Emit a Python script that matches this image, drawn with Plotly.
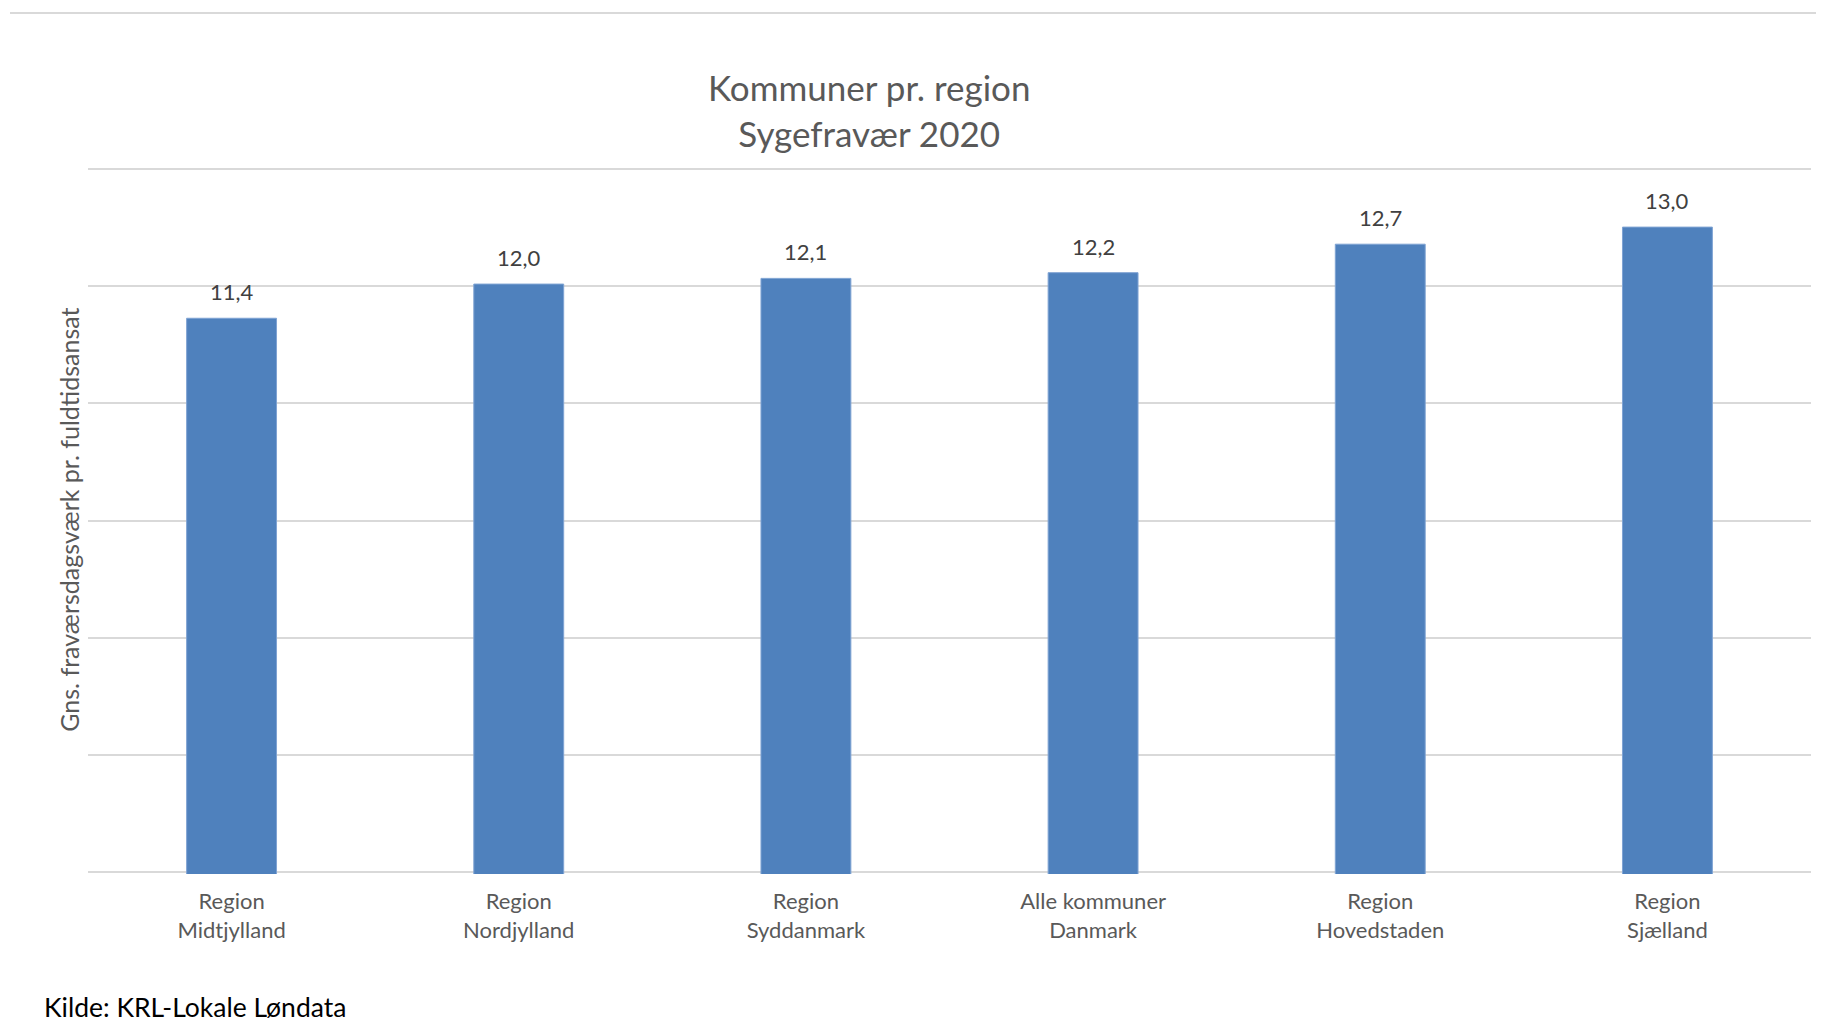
import plotly.graph_objects as go

# Sygefravær 2020 - kommuner pr. region
regions = ["Region<br>Midtjylland", "Region<br>Nordjylland", "Region<br>Syddanmark",
           "Alle kommuner<br>Danmark", "Region<br>Hovedstaden", "Region<br>Sjælland"]
sick_days = [11.4, 12.0, 12.1, 12.2, 12.7, 13.0]

FONT = "Lato, 'Open Sans', sans-serif"

# page offset (body margin) and plot area in page pixels
OFF = 8
L, R, T, B = 88, 1811, 167, 874.5
W, H = R - L, B - T


def px_x(px):
    return (px - L) / W


def px_y(py):
    return (B - py) / H


y_min, y_max = 1.68, 14.02
grid = [y_min + i * (y_max - y_min) / 6 for i in range(7)]
pad = 0.035

fig = go.Figure()
fig.add_trace(go.Bar(
    x=regions, y=sick_days,
    marker=dict(color="#4F81BD", line=dict(color="#7FA3D3", width=1)),
    width=0.313,
    hoverinfo="x+y",
))

# data labels above bars
for r, v in zip(regions, sick_days):
    fig.add_annotation(
        x=r, y=v, xref="x", yref="y",
        text=f"{v:.1f}".replace(".", ","),
        showarrow=False, yanchor="bottom", yshift=11,
        font=dict(family=FONT, size=22, color="#404040"),
    )

fig.add_annotation(
    x=px_x(869), y=px_y(110), xref="paper", yref="paper",
    text="Kommuner pr. region<br>Sygefravær 2020",
    showarrow=False, xanchor="center", yanchor="middle",
    font=dict(family=FONT, size=35, color="#595959"),
)
fig.add_annotation(
    x=px_x(69), y=px_y(520), xref="paper", yref="paper",
    text="Gns. fraværsdagsværk pr. fuldtidsansat", textangle=-90,
    showarrow=False, xanchor="center", yanchor="middle",
    font=dict(family=FONT, size=25, color="#595959"),
)
fig.add_annotation(
    x=px_x(42), y=px_y(1008), xref="paper", yref="paper",
    text="Kilde: KRL-Lokale Løndata",
    showarrow=False, xanchor="left", yanchor="middle",
    font=dict(family=FONT, size=26.5, color="#000000"),
)

# thin line across the top of the image
fig.add_shape(type="line", xref="paper", yref="paper",
              x0=px_x(10), x1=px_x(1830), y0=px_y(13), y1=px_y(13),
              line=dict(color="#d9d9d9", width=2))

fig.update_layout(
    width=1824, height=1026,
    margin=dict(l=L - OFF, r=1824 - W - (L - OFF), t=T - OFF, b=1026 - H - (T - OFF)),
    paper_bgcolor="white", plot_bgcolor="white",
    showlegend=False,
    font=dict(family=FONT),
    xaxis=dict(
        tickfont=dict(family=FONT, size=22, color="#595959"),
        ticks="", ticklabelstandoff=12,
        showline=False, showgrid=False,
    ),
    yaxis=dict(
        range=[y_min - pad, y_max + pad], tickvals=grid, showticklabels=False,
        showgrid=True, gridcolor="#d9d9d9", gridwidth=1.5,
        zeroline=False, showline=False,
    ),
)

fig.write_html("out.html")
